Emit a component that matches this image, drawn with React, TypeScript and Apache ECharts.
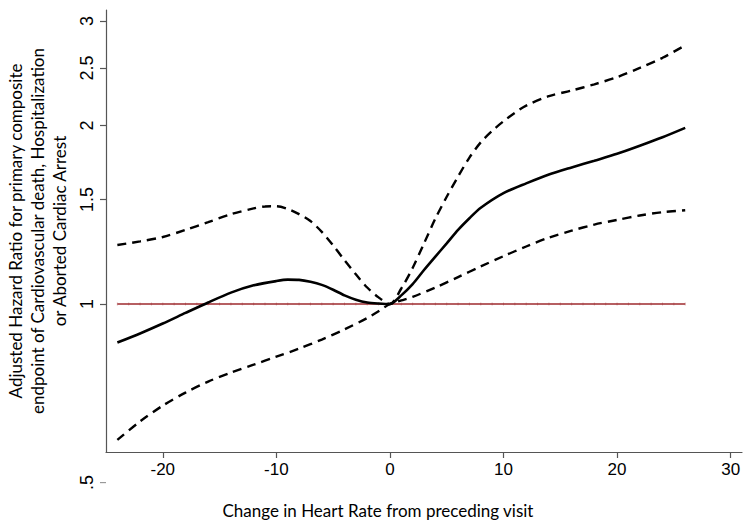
import React, { useEffect, useRef } from "react";
import * as echarts from "echarts";

// Change in heart rate (x) and adjusted hazard ratio (y)
const estX = [-24, -22, -20, -18, -16, -14, -12, -10, -9, -8, -7, -6, -5, -4, -3, -2, -1, 0, 1, 2, 3, 4, 5, 6, 7, 8, 10, 12, 14, 16, 18, 20, 22, 24, 26];
const estHR = [0.861, 0.892, 0.927, 0.966, 1.006, 1.045, 1.075, 1.093, 1.099, 1.098, 1.09, 1.077, 1.057, 1.034, 1.017, 1.006, 1.002, 1.0, 1.034, 1.08, 1.141, 1.202, 1.265, 1.333, 1.395, 1.453, 1.538, 1.597, 1.653, 1.699, 1.744, 1.791, 1.848, 1.91, 1.981];

const upperX = [-24, -22, -20, -18, -16, -14, -12, -11, -10, -9, -8, -7, -6, -5, -4, -3, -2, -1, 0, 1, 2, 3, 4, 5, 6, 7, 8, 9, 10, 11, 12, 14, 16, 18, 20, 22, 24, 26];
const upperHR = [1.257, 1.275, 1.297, 1.333, 1.374, 1.417, 1.449, 1.46, 1.461, 1.446, 1.417, 1.38, 1.323, 1.255, 1.185, 1.122, 1.066, 1.026, 1.0, 1.062, 1.15, 1.265, 1.393, 1.516, 1.64, 1.765, 1.873, 1.958, 2.032, 2.1, 2.16, 2.24, 2.29, 2.346, 2.412, 2.5, 2.6, 2.729];

const lowerX = [-24, -22, -20, -18, -16, -14, -12, -10, -8, -6, -4, -2, -1, 0, 1, 2, 4, 6, 8, 10, 12, 14, 16, 18, 20, 22, 24, 26];
const lowerHR = [0.59, 0.634, 0.674, 0.709, 0.74, 0.766, 0.79, 0.815, 0.841, 0.871, 0.906, 0.947, 0.972, 1.0, 1.014, 1.028, 1.066, 1.11, 1.157, 1.204, 1.25, 1.294, 1.329, 1.361, 1.386, 1.41, 1.428, 1.439];

// Reference line at HR = 1
const refX = [-24, -23, -22, -21, -20, -19, -18, -17, -16, -15, -14, -13, -12, -11, -10, -9, -8, -7, -6, -5, -4, -3, -2, -1, 0, 1, 2, 3, 4, 5, 6, 7, 8, 9, 10, 11, 12, 13, 14, 15, 16, 17, 18, 19, 20, 21, 22, 23, 24, 25, 26];
const refHR = 1;

const xTickValues = [-20, -10, 0, 10, 20, 30];
const yTickValues = [1, 1.5, 2, 2.5, 3];
const yTickLabels = ["1", "1.5", "2", "2.5", "3"];
const yExtraTick = 0.5;
const yExtraLabel = ".5";

const xMin = -25;
const xMax = 31;
const yMin = 0.563;
const yMax = 3.13;

const yTitle = "Adjusted Hazard Ratio for primary composite\nendpoint of Cardiovascular death, Hospitalization\nor Aborted Cardiac Arrest";
const xTitle = "Change in Heart Rate from preceding visit";

const toPts = (xs: number[], ys: number[]) => xs.map((x, i) => [x, Math.log10(ys[i])]);

const TICK_FONT = "'Liberation Sans', Arial, sans-serif";
const TITLE_FONT = "Lato, 'Open Sans', sans-serif";
const AXIS_COLOR = "#555";
const RED = "#9e2b2f";

export default function App() {
  const ref = useRef<HTMLDivElement>(null);
  useEffect(() => {
    document.body.style.margin = "0";
    if (!ref.current) return;
    const chart = echarts.init(ref.current, null, { renderer: "svg" });
    const dash = { type: [9, 6] as any, width: 2.4, color: "#000" };
    chart.setOption({
      animation: false,
      backgroundColor: "#fff",
      grid: { left: 106, right: 8, top: 10, bottom: 69, containLabel: false },
      xAxis: {
        type: "value",
        min: xMin,
        max: xMax,
        splitLine: { show: false },
        axisLine: { show: true, onZero: false, lineStyle: { color: AXIS_COLOR, width: 1.2 } },
        axisTick: { show: true, length: 6, customValues: xTickValues, lineStyle: { color: AXIS_COLOR, width: 1.2 } },
        axisLabel: {
          customValues: xTickValues,
          margin: 9,
          fontSize: 17,
          color: "#000",
          fontFamily: TICK_FONT,
          formatter: (v: number) => String(v),
        },
      },
      yAxis: {
        type: "value",
        min: Math.log10(yMin),
        max: Math.log10(yMax),
        splitLine: { show: false },
        axisLine: { show: true, onZero: false, lineStyle: { color: AXIS_COLOR, width: 1.2 } },
        axisTick: { show: true, length: 6, customValues: yTickValues.map(Math.log10), lineStyle: { color: AXIS_COLOR, width: 1.2 } },
        axisLabel: {
          customValues: yTickValues.map(Math.log10),
          rotate: 90,
          margin: 10,
          fontSize: 18,
          color: "#000",
          fontFamily: TICK_FONT,
          formatter: (v: number) => {
            const i = yTickValues.findIndex((t) => Math.abs(Math.log10(t) - v) < 1e-6);
            return i >= 0 ? yTickLabels[i] : "";
          },
        },
      },
      series: [
        {
          type: "line",
          data: refX.map((x) => [x, Math.log10(refHR)]),
          symbol: "rect",
          symbolSize: [1, 3],
          showSymbol: true,
          itemStyle: { color: RED, opacity: 0.35 },
          lineStyle: { color: RED, width: 1.6 },
          z: 1,
        },
        {
          type: "line",
          data: toPts(upperX, upperHR),
          smooth: 0.3,
          showSymbol: false,
          lineStyle: dash,
          z: 2,
        },
        {
          type: "line",
          data: toPts(lowerX, lowerHR),
          smooth: 0.3,
          showSymbol: false,
          lineStyle: dash,
          z: 2,
        },
        {
          type: "line",
          data: toPts(estX, estHR),
          smooth: 0.25,
          showSymbol: false,
          lineStyle: { type: "solid", width: 2.6, color: "#000" },
          z: 3,
        },
      ],
    });

    const yPx = chart.convertToPixel({ yAxisIndex: 0 }, Math.log10(yExtraTick)) as number;
    const xPx = chart.convertToPixel({ xAxisIndex: 0 }, xMin) as number;
    const yTop = chart.convertToPixel({ yAxisIndex: 0 }, Math.log10(yMax)) as number;
    const yBot = chart.convertToPixel({ yAxisIndex: 0 }, Math.log10(yMin)) as number;
    const x0 = chart.convertToPixel({ xAxisIndex: 0 }, 0) as number;
    chart.setOption({
      graphic: [
        {
          type: "line",
          shape: { x1: xPx - 6, y1: yPx, x2: xPx, y2: yPx },
          style: { stroke: "#999", lineWidth: 1.2 },
        },
        {
          type: "text",
          x: xPx - 10,
          y: yPx,
          rotation: Math.PI / 2,
          style: {
            text: yExtraLabel,
            fontSize: 18,
            fontFamily: TICK_FONT,
            fill: "#000",
            align: "center",
            verticalAlign: "bottom",
          },
        },
        {
          type: "text",
          x: 37,
          y: (yTop + yBot) / 2,
          rotation: Math.PI / 2,
          style: {
            text: yTitle,
            fontSize: 17,
            lineHeight: 22,
            fontFamily: TITLE_FONT,
            fill: "#000",
            align: "center",
            verticalAlign: "middle",
          },
        },
        {
          type: "text",
          x: x0 - 12,
          y: 510,
          style: {
            text: xTitle,
            fontSize: 17,
            fontFamily: TITLE_FONT,
            fill: "#000",
            align: "center",
            verticalAlign: "middle",
          },
        },
      ],
    });

    return () => chart.dispose();
  }, []);
  return <div ref={ref} style={{ width: 750, height: 521 }} />;
}
